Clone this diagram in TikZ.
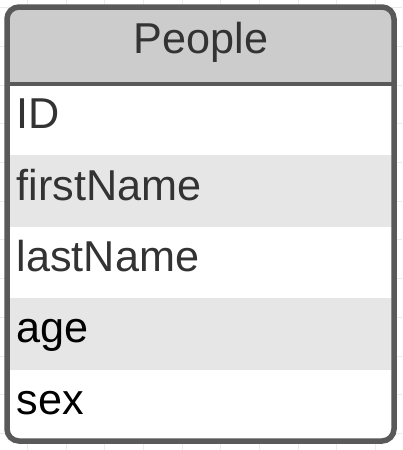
\documentclass[tikz,border=0pt]{standalone}
\usepackage{fontspec}
\setmainfont{Liberation Sans}
\definecolor{bordc}{RGB}{89,89,89}
\definecolor{headc}{RGB}{204,204,204}
\definecolor{altc}{RGB}{230,230,230}
\definecolor{txtc}{RGB}{51,51,51}
\definecolor{gridc}{RGB}{236,236,236}
\begin{document}
\begin{tikzpicture}[x=1pt,y=-1pt,
  bigtext/.style={font=\fontsize{43.2}{43.2}\selectfont, inner sep=0pt},
  rowtext/.style={bigtext, anchor=base west},
  gridline/.style={draw=gridc, line width=1pt}]
\useasboundingbox (0,0) rectangle (402,450);
\fill[white] (0,0) rectangle (402,450);
% faint background grid
\foreach \gx in {27.3,66,...,400} \draw[gridline] (\gx,0) -- (\gx,450);
\foreach \gy in {7.7,46.4,...,450} \draw[gridline] (0,\gy) -- (402,\gy);
% table fills
\begin{scope}
  \clip[rounded corners=12pt] (7,7) rectangle (394,441);
  \fill[white] (7,7) rectangle (394,441);
  \fill[headc] (7,7) rectangle (394,84);
  \fill[altc] (7,155.4) rectangle (394,226.8);
  \fill[altc] (7,298.2) rectangle (394,369.6);
\end{scope}
\draw[bordc, line width=4.5pt] (7,84) -- (394,84);
\draw[bordc, line width=5.5pt, rounded corners=12pt] (7,7) rectangle (394,441);
% texts
\node[bigtext, anchor=base, text=txtc] (title) at (201,53.5) {People};
\node[rowtext, text=txtc] (rid) at (16.5,128.6) {ID};
\node[rowtext, text=txtc] (rfirst) at (16.5,200) {firstName};
\node[rowtext, text=txtc] (rlast) at (16.5,271.4) {lastName};
\node[rowtext, text=black] (rage) at (16.5,342.8) {age};
\node[rowtext, text=black] (rsex) at (16.5,414.2) {sex};
\end{tikzpicture}
\end{document}
